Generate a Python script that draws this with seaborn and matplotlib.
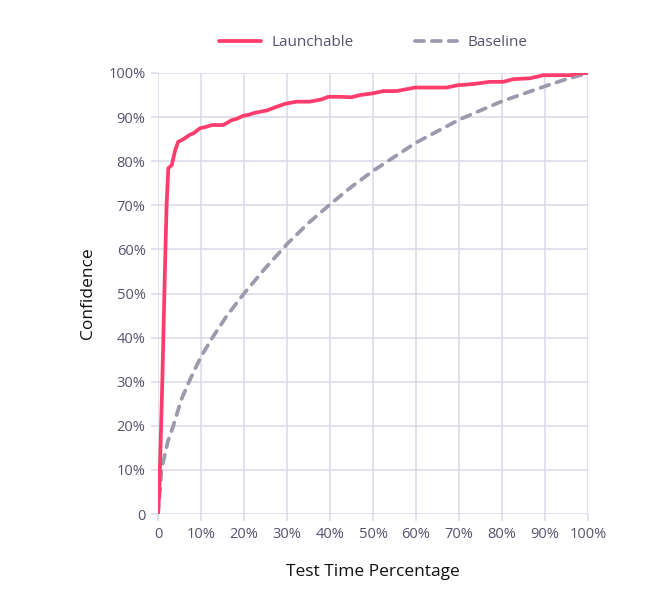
import matplotlib
matplotlib.use("Agg")
import matplotlib.pyplot as plt
from matplotlib.ticker import FuncFormatter
import seaborn as sns

# Launchable curve (test time %, confidence %)
launch_x = [0, 0.3, 1.0, 1.6, 2.0, 2.4, 3.2, 4.0, 4.7, 5.9, 7.4, 8.2, 9.8, 10.9,
            12.5, 15.2, 17.1, 18.3, 19.8, 21.0, 22.6, 25.3, 27.2, 29.5, 32.2,
            35.3, 38.0, 39.6, 42.3, 45.0, 47.0, 50.0, 52.4, 55.5, 59.8, 67.1,
            69.5, 73.3, 77.2, 80.3, 82.6, 86.5, 89.6, 95.8, 97.4, 100]
launch_y = [0, 5, 30, 55, 70, 78.4, 79.1, 82.5, 84.4, 85.0, 86.0, 86.3, 87.5, 87.7,
            88.2, 88.2, 89.3, 89.6, 90.3, 90.5, 91.0, 91.5, 92.2, 93.0, 93.5,
            93.5, 94.0, 94.6, 94.6, 94.5, 95.0, 95.4, 95.9, 95.9, 96.7, 96.7,
            97.2, 97.5, 98.0, 98.0, 98.6, 98.8, 99.5, 99.5, 99.9, 100]

# Baseline curve
base_x = [0, 0.8, 2.3, 3.5, 5.4, 7.4, 10.0, 12.8, 15.9, 20.0, 25.0, 30.0, 35.0,
          40.0, 45.0, 50.0, 60.0, 70.0, 80.0, 90.0, 94.3, 100]
base_y = [0, 10.0, 16.5, 19.8, 25.9, 30.4, 35.7, 40.2, 44.8, 50.0, 55.8, 61.2, 66.0,
          70.2, 74.2, 77.8, 84.2, 89.4, 93.6, 97.0, 98.4, 100]

ticks = list(range(0, 101, 10))

sns.set_theme(style="white")
plt.rcParams["font.family"] = ["Open Sans", "DejaVu Sans"]

text_color = "#55536e"
grid_color = "#dad8ea"
dash = (2.4, 2.1)

fig = plt.figure(figsize=(6.48, 6.01), dpi=100)
ax = fig.add_axes([158 / 648, 1 - 514 / 601, 430 / 648, 441 / 601])

sns.lineplot(x=launch_x, y=launch_y, ax=ax, color="#ff3d6d", linewidth=2.7,
             label="Launchable", sort=False, solid_capstyle="round", zorder=4)
sns.lineplot(x=base_x, y=base_y, ax=ax, color="#9d9aad", linewidth=2.7,
             label="Baseline", sort=False, zorder=3)
ax.lines[1].set_dashes(dash)
ax.lines[1].set_dash_capstyle("round")

ax.set_xlim(0, 100)
ax.set_ylim(0, 100)
ax.set_xticks(ticks)
ax.set_yticks(ticks)
pct = FuncFormatter(lambda v, _: "0" if v == 0 else f"{int(v)}%")
ax.xaxis.set_major_formatter(pct)
ax.yaxis.set_major_formatter(pct)
ax.grid(True, color=grid_color, linewidth=1.1)
ax.set_axisbelow(True)
for s in ax.spines.values():
    s.set_visible(False)
ax.tick_params(axis="both", length=5, width=1.1, color=grid_color,
               labelcolor=text_color, labelsize=10.5, pad=4)
ax.tick_params(axis="x", bottom=True)
ax.tick_params(axis="y", left=True)

ax.set_xlabel("Test Time Percentage", fontsize=12.5, color="#111111", labelpad=16)
ax.set_ylabel("Confidence", fontsize=12.5, color="#111111", labelpad=9)

leg = ax.legend(loc="lower center", bbox_to_anchor=(0.5, 1.02), ncol=2,
                frameon=False, fontsize=11, handlelength=2.8,
                handletextpad=0.65, columnspacing=4.0)
for t in leg.get_texts():
    t.set_color(text_color)
leg.get_lines()[1].set_dashes(dash)
leg.get_lines()[1].set_dash_capstyle("round")

fig.savefig("out.png", dpi=100)
